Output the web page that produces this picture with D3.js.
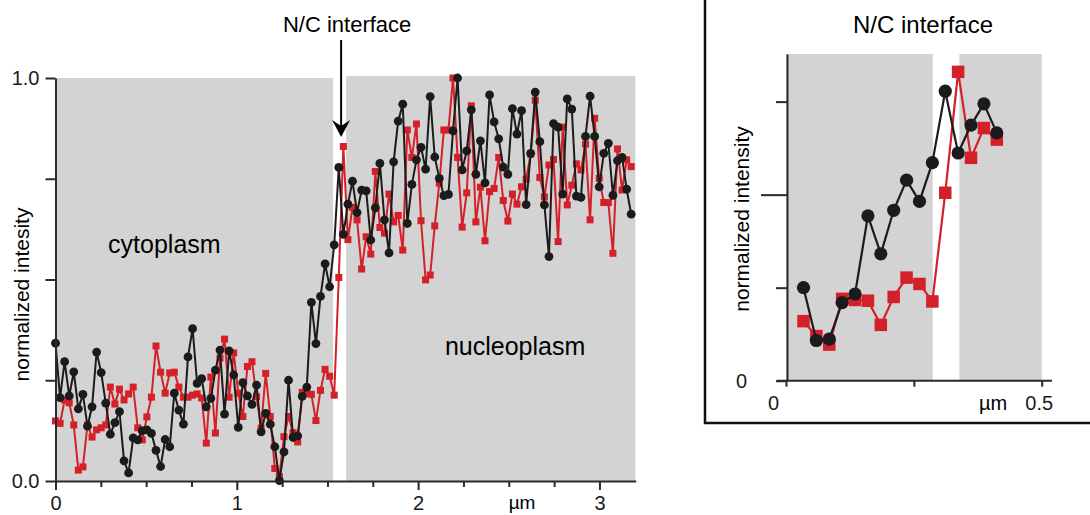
<!DOCTYPE html>
<html>
<head>
<meta charset="utf-8">
<script src="https://cdn.jsdelivr.net/npm/d3@7"></script>
<style>
  body { margin: 0; background: #fff; }
  svg { display: block; font-family: "Liberation Sans", Arial, Helvetica, sans-serif; }
</style>
</head>
<body>
<svg id="chart" width="1090" height="515"></svg>
<script>
// distance between two samples along the line scan (µm)
const xStep = 0.0252;

// black trace (circles)
const blackValues = [
  0.342, 0.207, 0.296, 0.211, 0.271, 0.179, 0.215, 0.136, 0.184, 0.320,
  0.269, 0.193, 0.116, 0.145, 0.172, 0.050, 0.020, 0.107, 0.102, 0.125,
  0.127, 0.118, 0.076, 0.036, 0.103, 0.085, 0.218, 0.176, 0.141, 0.308,
  0.378, 0.242, 0.254, 0.184, 0.205, 0.275, 0.325, 0.166, 0.323, 0.263,
  0.133, 0.244, 0.211, 0.190, 0.238, 0.122, 0.168, 0.141, 0.085, 0.001,
  0.072, 0.250, 0.108, 0.112, 0.210, 0.233, 0.443, 0.341, 0.458, 0.539,
  0.482, 0.586, 0.778, 0.612, 0.687, 0.744, 0.666, 0.722, 0.720, 0.598,
  0.678, 0.788, 0.648, 0.566, 0.792, 0.893, 0.935, 0.639, 0.736, 0.797,
  0.828, 0.774, 0.954, 0.804, 0.751, 0.708, 0.711, 0.869, 1.000, 0.772,
  0.819, 0.921, 0.761, 0.844, 0.740, 0.958, 0.891, 0.849, 0.779, 0.761,
  0.924, 0.861, 0.919, 0.686, 0.813, 0.965, 0.842, 0.685, 0.557, 0.887,
  0.878, 0.712, 0.948, 0.923, 0.707, 0.704, 0.855, 0.955, 0.855, 0.730,
  0.813, 0.838, 0.709, 0.795, 0.803, 0.724, 0.662
];

// red trace (squares)
const redValues = [
  0.149, 0.143, 0.201, 0.194, 0.139, 0.027, 0.035, 0.139, 0.109, 0.127,
  0.132, 0.139, 0.233, 0.191, 0.228, 0.201, 0.216, 0.233, 0.132, 0.102,
  0.159, 0.208, 0.335, 0.270, 0.218, 0.268, 0.270, 0.233, 0.208, 0.208,
  0.213, 0.216, 0.206, 0.094, 0.258, 0.119, 0.305, 0.352, 0.208, 0.318,
  0.218, 0.160, 0.284, 0.296, 0.209, 0.131, 0.267, 0.160, 0.031, 0.011,
  0.110, 0.160, 0.120, 0.097, 0.220, 0.217, 0.215, 0.150, 0.225, 0.277,
  0.260, 0.213, 0.505, 0.830, 0.599, 0.679, 0.648, 0.526, 0.606, 0.563,
  0.768, 0.629, 0.615, 0.712, 0.643, 0.659, 0.573, 0.871, 0.803, 0.886,
  0.646, 0.499, 0.511, 0.633, 0.739, 0.871, 0.871, 1.000, 0.803, 0.630,
  0.715, 0.931, 0.643, 0.729, 0.596, 0.718, 0.726, 0.803, 0.696, 0.645,
  0.712, 0.687, 0.730, 0.749, 0.811, 0.945, 0.753, 0.705, 0.784, 0.798,
  0.594, 0.878, 0.685, 0.734, 0.787, 0.772, 0.836, 0.648, 0.900, 0.751,
  0.691, 0.691, 0.565, 0.824, 0.722, 0.797, 0.780
];

// shaded compartments (µm, top in intensity units)
const cytoplasmBand = [0, 1.531, 1.0];
const nucleusBand = [1.603, 3.198, 1.005];

const mainYTicks = [0, 0.25, 0.5, 0.75, 1];
const mainYLabels = { 0: "0.0", 1: "1.0" };
const mainXTicks = d3.range(0, 3.01, 0.25);
const mainXLabels = { 0: "0", 1: "1", 2: "2", 3: "3" };

// inset = zoom on samples around the interface
const insetFirst = 51;
const insetLast = 66;
const insetShift = 1.251;
const insetCytoBand = [0, 0.287];
const insetNucBand = [0.339, 0.5];
const insetTop = 0.878;
const insetYTicks = [0, 0.25, 0.5, 0.75];
const insetXTicks = [0, 0.25, 0.5];
const insetXLabels = { 0: "0", 0.5: "0.5" };

const grey = "#d3d3d3",
    red = "#d42029",
    black = "#1b1b1b",
    axisColor = "#2a2a2a";

let svg = d3.select("#chart");

let mainData = blackValues.map((v, i) => ({ pos: i * xStep, black: v, red: redValues[i] }));
let insetData = mainData.slice(insetFirst, insetLast + 1)
    .map(d => ({ pos: d.pos - insetShift, black: d.black, red: d.red }));

function drawSeries(g, data, xs, ys, key, color, lineWidth, shape, size) {
    let line = d3.line().x(d => xs(d.pos)).y(d => ys(d[key]));
    g.append("path")
        .datum(data)
        .attr("fill", "none")
        .attr("stroke", color)
        .attr("stroke-width", lineWidth)
        .attr("stroke-linejoin", "round")
        .attr("d", line);
    if (shape === "square") {
        g.append("g").selectAll("rect")
            .data(data)
            .join("rect")
            .attr("x", d => xs(d.pos) - size / 2)
            .attr("y", d => ys(d[key]) - size / 2)
            .attr("width", size)
            .attr("height", size)
            .attr("fill", color);
    } else {
        g.append("g").selectAll("circle")
            .data(data)
            .join("circle")
            .attr("cx", d => xs(d.pos))
            .attr("cy", d => ys(d[key]))
            .attr("r", size)
            .attr("fill", color);
    }
}

function styleAxis(g) {
    g.selectAll("path, line").attr("stroke", axisColor).attr("stroke-width", 2);
    g.selectAll("text").attr("fill", "#1a1a1a").attr("font-size", 20)
        .attr("font-family", "Liberation Sans, Arial, sans-serif");
}

// MAIN CHART ---------------------------------------------------------------
let x = d3.scaleLinear().domain([0, 3.2]).range([55.5, 635.7]);
let y = d3.scaleLinear().domain([0, 1]).range([481, 78]);

let main = svg.append("g");

// For the compartments
[cytoplasmBand, nucleusBand].forEach(b => {
    main.append("rect")
        .attr("x", x(b[0]))
        .attr("y", y(b[2]))
        .attr("width", x(b[1]) - x(b[0]))
        .attr("height", y(0) - y(b[2]))
        .attr("fill", grey);
});

drawSeries(main, mainData, x, y, "red", red, 2, "square", 7);
drawSeries(main, mainData, x, y, "black", black, 2, "circle", 4.4);

// axes
main.append("g")
    .attr("transform", `translate(${x(0)},0)`)
    .call(d3.axisLeft(y).tickValues(mainYTicks).tickSize(10).tickSizeOuter(0).tickPadding(6)
        .tickFormat(d => mainYLabels[d] || ""))
    .call(styleAxis);

let xAxisG = main.append("g")
    .attr("transform", `translate(0,${y(0)})`)
    .call(d3.axisBottom(x).tickValues(mainXTicks).tickSize(9).tickSizeOuter(0).tickPadding(6)
        .tickFormat(d => mainXLabels[d] || ""))
    .call(styleAxis);
xAxisG.selectAll(".tick line").filter(d => !Number.isInteger(d)).attr("y2", 6);

main.append("text")
    .attr("x", x(2.573))
    .attr("y", y(0) + 15)
    .attr("dy", "0.71em")
    .attr("text-anchor", "middle")
    .attr("font-size", 19)
    .text("µm");

main.append("text")
    .attr("transform", `translate(29,${(y(0) + y(1)) / 2 + 15}) rotate(-90)`)
    .attr("text-anchor", "middle")
    .attr("font-size", 21)
    .text("normalized intesity");

main.append("text")
    .attr("x", x(0.29))
    .attr("y", y(0.566))
    .attr("font-size", 25)
    .text("cytoplasm");

main.append("text")
    .attr("x", x(2.148))
    .attr("y", y(0.313))
    .attr("font-size", 25)
    .text("nucleoplasm");

// interface label + arrow
let arrowX = x((cytoplasmBand[1] + nucleusBand[0]) / 2) + 1.5;
main.append("text")
    .attr("x", arrowX + 6)
    .attr("y", 32)
    .attr("text-anchor", "middle")
    .attr("font-size", 22)
    .text("N/C interface");

main.append("line")
    .attr("x1", arrowX).attr("x2", arrowX)
    .attr("y1", 40).attr("y2", 126)
    .attr("stroke", "#000")
    .attr("stroke-width", 2);

main.append("path")
    .attr("d", `M${arrowX - 9},120 L${arrowX},137 L${arrowX + 9},120 L${arrowX},126 Z`)
    .attr("fill", "#000");

// INSET --------------------------------------------------------------------
let xi = d3.scaleLinear().domain([0, 0.5]).range([786, 1041.7]);
let yi = d3.scaleLinear().domain([0, insetTop]).range([380.7, 54]);

let inset = svg.append("g");

inset.append("rect")
    .attr("x", 705)
    .attr("y", -10)
    .attr("width", 420)
    .attr("height", 433)
    .attr("fill", "none")
    .attr("stroke", "#111")
    .attr("stroke-width", 2.5);

[insetCytoBand, insetNucBand].forEach(b => {
    inset.append("rect")
        .attr("x", xi(b[0]))
        .attr("y", yi(insetTop))
        .attr("width", xi(b[1]) - xi(b[0]))
        .attr("height", yi(0) - yi(insetTop))
        .attr("fill", grey);
});

drawSeries(inset, insetData, xi, yi, "red", red, 2.2, "square", 12.5);
drawSeries(inset, insetData, xi, yi, "black", black, 2.2, "circle", 6.6);

let yiAxis = inset.append("g")
    .attr("transform", `translate(${xi(0) + 1},0)`)
    .call(d3.axisLeft(yi).tickValues(insetYTicks).tickSize(11).tickSizeOuter(0).tickPadding(29)
        .tickFormat(d => d === 0 ? "0" : ""))
    .call(styleAxis);
yiAxis.selectAll(".tick line").filter(d => d === 0.5).attr("x2", -26);

let xiAxis = inset.append("g")
    .attr("transform", `translate(0,${yi(0)})`)
    .call(d3.axisBottom(xi).tickValues(insetXTicks).tickSize(6).tickSizeOuter(0).tickPadding(9)
        .tickFormat(d => insetXLabels[d] || ""))
    .call(styleAxis);
xiAxis.select(".domain").remove();
xiAxis.selectAll(".tick text").attr("dx", d => d === 0 ? -13 : -3);

inset.append("line")
    .attr("x1", xi(-0.018)).attr("x2", xi(0.52))
    .attr("y1", yi(0)).attr("y2", yi(0))
    .attr("stroke", axisColor)
    .attr("stroke-width", 2);

inset.append("text")
    .attr("x", xi(0.405))
    .attr("y", yi(0) + 15)
    .attr("dy", "0.71em")
    .attr("text-anchor", "middle")
    .attr("font-size", 20)
    .text("µm");

inset.append("text")
    .attr("x", 923)
    .attr("y", 33)
    .attr("text-anchor", "middle")
    .attr("font-size", 24)
    .text("N/C interface");

inset.append("text")
    .attr("transform", "translate(749,219) rotate(-90)")
    .attr("text-anchor", "middle")
    .attr("font-size", 21)
    .text("normalized intensity");
</script>
</body>
</html>
